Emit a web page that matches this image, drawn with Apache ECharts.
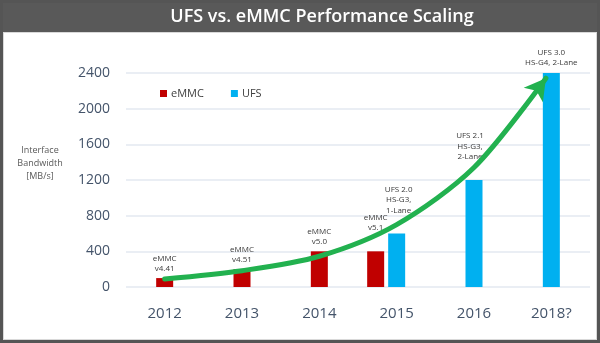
<!DOCTYPE html>
<html>
<head>
<meta charset="utf-8">
<style>
  html, body { margin: 0; padding: 0; background: #555; }
  #chart { width: 600px; height: 343px; }
</style>
<script src="https://cdn.jsdelivr.net/npm/echarts@6/dist/echarts.min.js"></script>
</head>
<body>
<div id="chart"></div>
<script>
// Years on the category axis
const years = ['2012', '2013', '2014', '2015', '2016', '2018?'];
// Interface bandwidth in MB/s per interface generation
const emmcBandwidth = [100, 200, 400, 400, null, null];
const ufsBandwidth = [null, null, null, 600, 1200, 2400];
// Version notes printed above each bar
const emmcNotes = ['eMMC\nv4.41', 'eMMC\nv4.51', 'eMMC\nv5.0', 'eMMC\nv5.1', '', ''];
const ufsNotes = ['', '', '', 'UFS 2.0\nHS-G3,\n1-Lane', 'UFS 2.1\nHS-G3,\n2-Lane', 'UFS 3.0\nHS-G4, 2-Lane'];
// Growth trend arrow (year index, MB/s)
const trendYearIndex = [0, 1, 2, 3, 4, 4.93];
const trendBandwidth = [90, 183, 345, 700, 1340, 2342];
// Y tick values
const yTicks = [0, 400, 800, 1200, 1600, 2000, 2400];

const EMMC_RED = '#c00000';
const UFS_BLUE = '#00b0f0';
const TREND_GREEN = '#22b14f';
const AXIS_TEXT = '#44546a';
const FONT = '"Open Sans", "Noto Sans", sans-serif';

const BAR_W = 17;
const PAIR_SHIFT = 21;
// how far notes sit above their bar (px), raised where the trend line passes
const noteLift = { emmc: [4, 4, 4, 18, 4, 4], ufs: [4, 4, 4, 18, 18, 5] };

function barRenderer(kind) {
  return function (params, api) {
    const i = api.value(0);
    const v = api.value(1);
    const base = api.coord([i, 0]);
    const top = api.coord([i, v]);
    const paired = emmcBandwidth[i] != null && ufsBandwidth[i] != null;
    const shift = (kind === 'emmc' && paired) ? -PAIR_SHIFT : 0;
    const cx = base[0] + shift;
    const note = kind === 'emmc' ? emmcNotes[i] : ufsNotes[i];
    return {
      type: 'group',
      children: [
        {
          type: 'rect',
          shape: { x: cx - BAR_W / 2, y: top[1], width: BAR_W, height: base[1] - top[1] },
          style: { fill: kind === 'emmc' ? EMMC_RED : UFS_BLUE }
        },
        {
          type: 'text',
          x: cx + (kind === 'ufs' && i === 4 ? -4 : (kind === 'ufs' && i === 3 ? 2 : 0)),
          y: top[1] - noteLift[kind][i],
          style: {
            text: note,
            fill: '#3a3a3a',
            fontSize: 8,
            fontFamily: FONT,
            lineHeight: 10.5,
            align: 'center',
            verticalAlign: 'bottom'
          }
        }
      ]
    };
  };
}

const chart = echarts.init(document.getElementById('chart'), null, { renderer: 'canvas' });

const option = {
  backgroundColor: '#555555',
  animation: false,
  graphic: [
    { type: 'rect', z: -10, shape: { x: 3, y: 32, width: 594, height: 308 }, style: { fill: '#d9d9d9' } },
    { type: 'rect', z: -9, shape: { x: 4, y: 33, width: 592, height: 306 }, style: { fill: '#ffffff' } },
    { type: 'rect', z: -9, shape: { x: 3, y: 3, width: 594, height: 29 }, style: { fill: '#595959' } },
    {
      type: 'text', x: 322, y: 17, z: 10,
      style: {
        text: 'UFS vs. eMMC Performance Scaling',
        fill: '#ffffff', fontSize: 18, fontWeight: 600, fontFamily: FONT,
        align: 'center', verticalAlign: 'middle'
      }
    },
    {
      type: 'text', x: 40, y: 163, z: 10,
      style: {
        text: 'Interface\nBandwidth\n[MB/s]',
        fill: '#595959', fontSize: 9, lineHeight: 13, fontFamily: FONT,
        align: 'center', verticalAlign: 'middle'
      }
    }
  ],
  legend: {
    left: 155, top: 83,
    itemWidth: 7, itemHeight: 7, itemGap: 27,
    icon: 'rect',
    textStyle: { color: '#404040', fontSize: 11, fontFamily: FONT, padding: [0, 0, 0, -1] },
    data: ['eMMC', 'UFS']
  },
  grid: { left: 126, right: 10, top: 73, bottom: 56, containLabel: false },
  xAxis: [
    {
      type: 'category',
      data: years,
      axisLine: { show: false },
      axisTick: { show: false },
      axisLabel: { color: AXIS_TEXT, fontSize: 15, fontFamily: FONT, margin: 19 }
    },
    { type: 'value', min: -0.5, max: 5.5, show: false }
  ],
  yAxis: {
    type: 'value',
    min: 0, max: 2400, interval: 400,
    axisLine: { show: false },
    axisTick: { show: false },
    splitLine: { lineStyle: { color: '#e3e8f0', width: 1.5 } },
    axisLabel: { color: AXIS_TEXT, fontSize: 14, fontFamily: FONT, margin: 16,
      formatter: function (v) { return yTicks.indexOf(v) >= 0 ? String(v) : ''; } }
  },
  series: [
    {
      name: 'eMMC',
      type: 'custom',
      xAxisIndex: 0,
      itemStyle: { color: EMMC_RED },
      encode: { x: 0, y: 1 },
      renderItem: barRenderer('emmc'),
      data: emmcBandwidth.map((v, i) => [i, v]).filter(d => d[1] != null)
    },
    {
      name: 'UFS',
      type: 'custom',
      xAxisIndex: 0,
      itemStyle: { color: UFS_BLUE },
      encode: { x: 0, y: 1 },
      renderItem: barRenderer('ufs'),
      data: ufsBandwidth.map((v, i) => [i, v]).filter(d => d[1] != null)
    },
    {
      name: 'trend',
      type: 'line',
      xAxisIndex: 1,
      smooth: 0.3,
      z: 5,
      lineStyle: { color: TREND_GREEN, width: 5, cap: 'round' },
      itemStyle: { color: TREND_GREEN },
      symbol: 'arrow',
      showAllSymbol: true,
      symbolSize: function (val, p) { return p.dataIndex === trendBandwidth.length - 1 ? [18, 21] : 0; },
      symbolRotate: -37,
      data: trendYearIndex.map((x, i) => [x, trendBandwidth[i]])
    }
  ]
};

chart.setOption(option);
</script>
</body>
</html>
